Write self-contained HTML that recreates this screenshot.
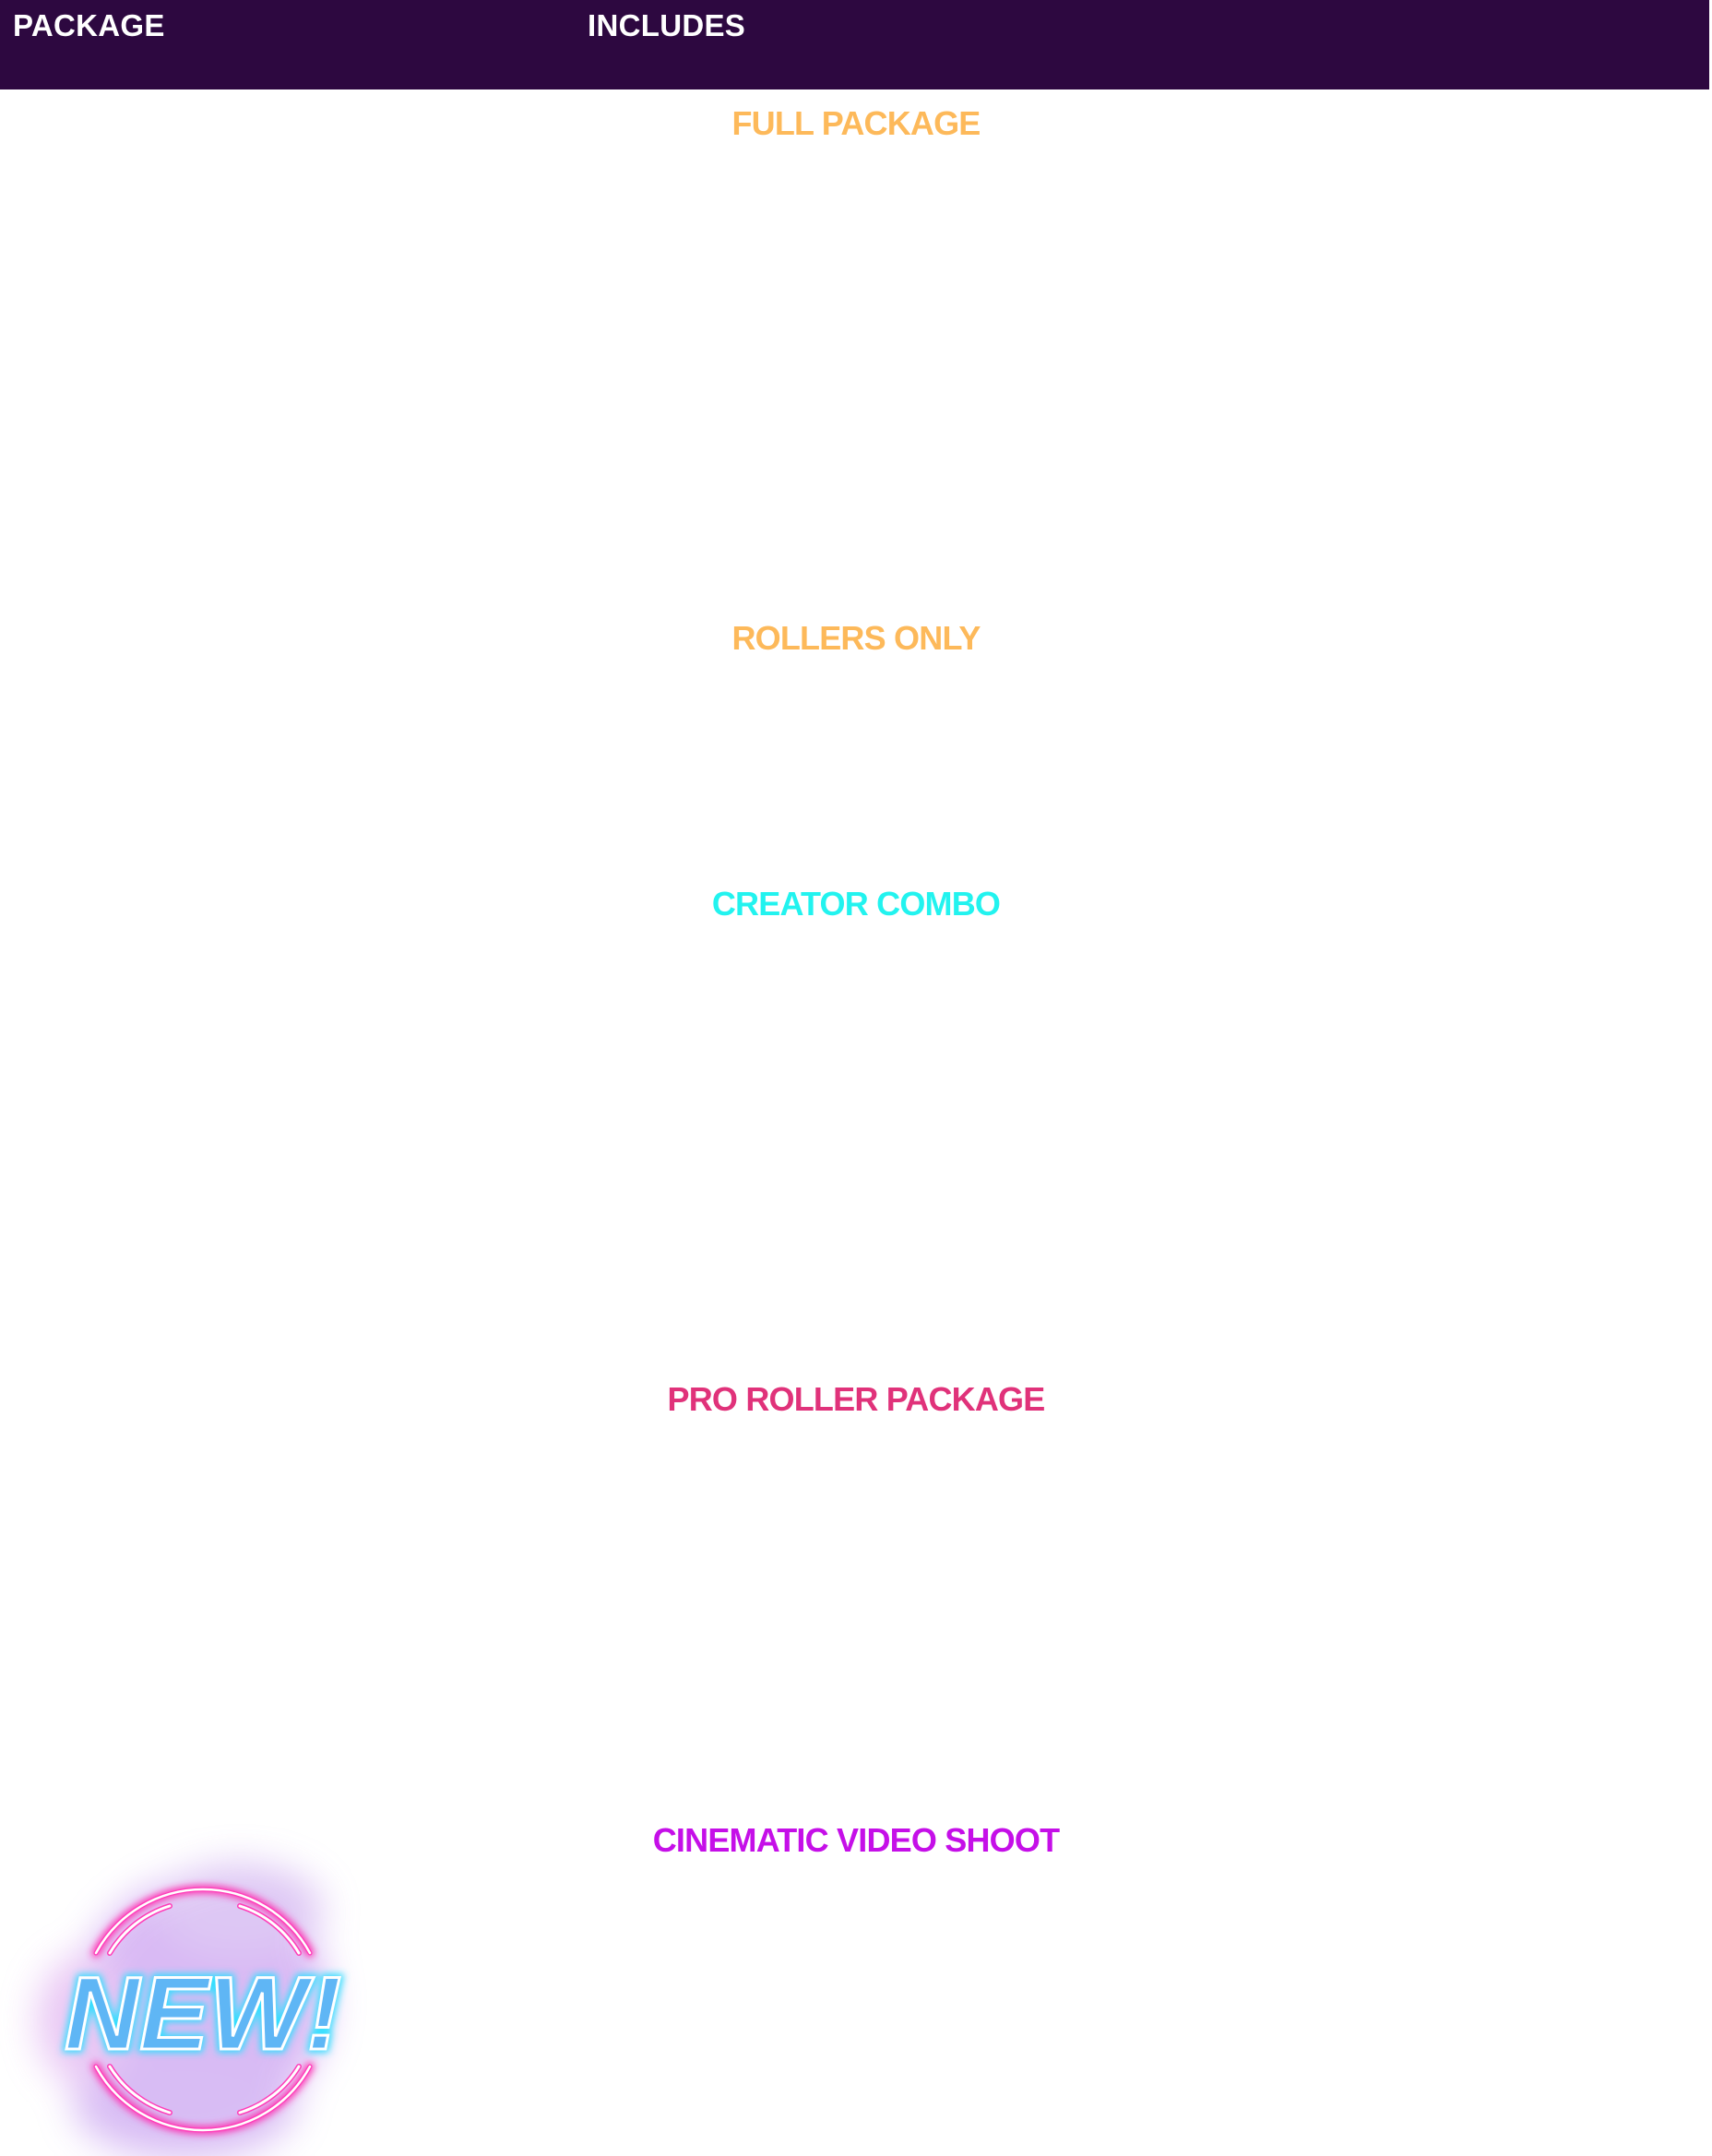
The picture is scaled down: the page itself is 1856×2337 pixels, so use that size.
<!DOCTYPE html>
<html><head><meta charset="utf-8"><style>
html,body{margin:0;padding:0;background:#fff;width:1856px;height:2337px;overflow:hidden;position:relative;font-family:"Liberation Sans",sans-serif;}
.hdr{position:absolute;left:0;top:0;width:1853px;height:97px;background:#2d0840;}
.t{position:absolute;font-weight:bold;line-height:1;white-space:nowrap;}
.h{color:#fff;font-size:33px;top:11px;letter-spacing:0.3px;}
.l{font-size:36px;left:0;width:1856px;text-align:center;letter-spacing:-0.8px;}
</style></head><body>
<div class="hdr"></div>
<div class="t h" style="left:14px">PACKAGE</div>
<div class="t h" style="left:637px">INCLUDES</div>
<div class="t l" style="top:116px;color:#fdb95a">FULL PACKAGE</div>
<div class="t l" style="top:674px;color:#fdb95a">ROLLERS ONLY</div>
<div class="t l" style="top:962px;color:#22f3ef">CREATOR COMBO</div>
<div class="t l" style="top:1499px;color:#e0327a">PRO ROLLER PACKAGE</div>
<div class="t l" style="top:1977px;color:#c50fe8">CINEMATIC VIDEO SHOOT</div>
<svg style="position:absolute;left:0;top:1960px" width="500" height="377" viewBox="0 0 500 377">
<defs>
<filter id="blur" x="-50%" y="-50%" width="200%" height="200%"><feGaussianBlur stdDeviation="20"/></filter>
<filter id="glow" x="-50%" y="-50%" width="200%" height="200%"><feGaussianBlur stdDeviation="4"/></filter>
</defs>
<g filter="url(#blur)" opacity="0.7">
<circle cx="220" cy="210" r="135" fill="#c99cf0"/>
<ellipse cx="200" cy="320" rx="120" ry="60" fill="#c8a0f0"/>
<ellipse cx="260" cy="110" rx="90" ry="50" fill="#d0b0f0"/>
<ellipse cx="90" cy="230" rx="50" ry="70" fill="#e0b0f0"/>
</g>
<g fill="none" stroke-linecap="round">
<g stroke="#ff2fb0" stroke-width="9" filter="url(#glow)">
<path d="M104 157 A132 132 0 0 1 336 157"/>
<path d="M104 280 A132 132 0 0 0 336 280"/>
</g>
<path d="M104 157 A132 132 0 0 1 336 157" stroke="#ff3cb8" stroke-width="5"/>
<path d="M104 157 A132 132 0 0 1 336 157" stroke="#fff" stroke-width="2.5"/>
<path d="M104 280 A132 132 0 0 0 336 280" stroke="#ff3cb8" stroke-width="5"/>
<path d="M104 280 A132 132 0 0 0 336 280" stroke="#fff" stroke-width="2.5"/>
<path d="M119 157 A115 115 0 0 1 184 106" stroke="#ff3cb8" stroke-width="6"/>
<path d="M260 106 A115 115 0 0 1 324 157" stroke="#ff3cb8" stroke-width="6"/>
<path d="M119 280 A115 115 0 0 0 184 330" stroke="#ff3cb8" stroke-width="6"/>
<path d="M260 330 A115 115 0 0 0 324 280" stroke="#ff3cb8" stroke-width="6"/>
<path d="M119 157 A115 115 0 0 1 184 106" stroke="#fff" stroke-width="3"/>
<path d="M260 106 A115 115 0 0 1 324 157" stroke="#fff" stroke-width="3"/>
<path d="M119 280 A115 115 0 0 0 184 330" stroke="#fff" stroke-width="3"/>
<path d="M260 330 A115 115 0 0 0 324 280" stroke="#fff" stroke-width="3"/>
</g>
<text x="220" y="261" text-anchor="middle" font-family="Liberation Sans, sans-serif" font-weight="bold" font-style="italic" font-size="112" fill="#5fb6f5" stroke="#33e0ff" stroke-width="8" filter="url(#glow)" textLength="300">NEW!</text>
<text x="220" y="261" text-anchor="middle" font-family="Liberation Sans, sans-serif" font-weight="bold" font-style="italic" font-size="112" fill="#5fb6f5" stroke="#fff" stroke-width="3" textLength="300">NEW!</text>
</svg>
</body></html>
